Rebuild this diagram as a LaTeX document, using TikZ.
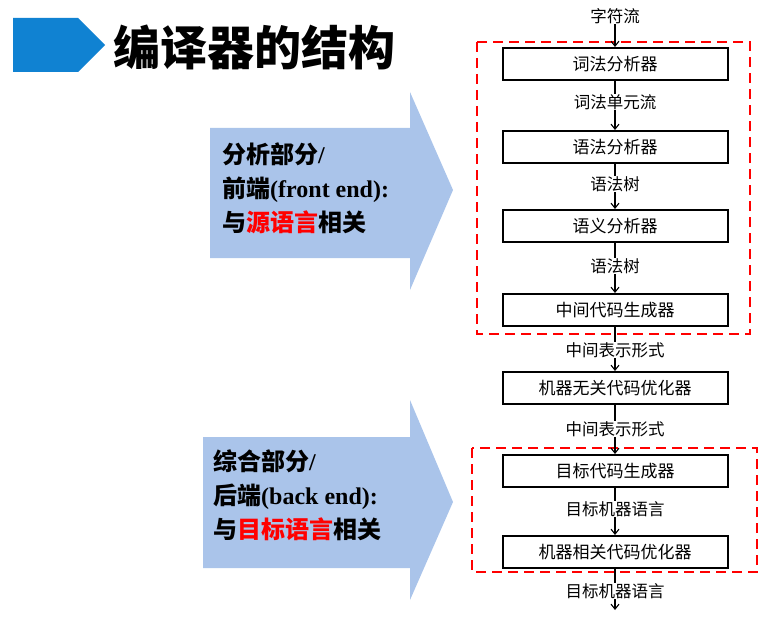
\documentclass[tikz,border=0pt]{standalone}
\usepackage{fontspec}
\usetikzlibrary{arrows.meta}
\setmainfont{Liberation Serif}
\newfontfamily\cjk{Noto Sans CJK SC}
\newcommand\cjkb{\cjk\bfseries}
\definecolor{iconblue}{RGB}{16,130,210}
\definecolor{arrowblue}{RGB}{170,196,234}
\begin{document}
\begin{tikzpicture}[x=1pt,y=-1pt,
 stage/.style={draw,line width=2pt,minimum width=225pt,minimum height=32pt,inner sep=1pt,font=\cjk\fontsize{17}{19}\selectfont},
 lab/.style={font=\cjk\fontsize{16.5}{18}\selectfont,inner sep=0.5pt},
 conn/.style={-{Straight Barb[length=5pt,width=8pt]},line width=1.1pt},
 seg/.style={line width=1.1pt},
 reddash/.style={draw=red,line width=2.5pt,dash pattern=on 10pt off 6pt}]
\useasboundingbox (0,0) rectangle (773,623);
% title icon
\fill[iconblue] (13,18) -- (78,18) -- (105,45) -- (78,72) -- (13,72) -- cycle;
\node[anchor=west,font=\cjkb\fontsize{47}{50}\selectfont,inner sep=0] (title) at (113,47) {编译器的结构};
% big arrows
\fill[arrowblue] (210,128) -- (410,128) -- (410,92) -- (453,190) -- (410,290) -- (410,258) -- (210,258) -- cycle;
\fill[arrowblue] (203,437) -- (410,437) -- (410,400) -- (453,502) -- (410,600) -- (410,568) -- (203,568) -- cycle;
\node[anchor=north west,align=left,font=\bfseries\fontsize{24}{34}\selectfont,inner sep=0] (t1) at (222,143)
 {{\cjkb 分析部分}/\\{\cjkb 前端}(front end):\\{\cjkb 与\textcolor{red}{源语言}相关}};
\node[anchor=north west,align=left,font=\bfseries\fontsize{24}{34}\selectfont,inner sep=0] (t2) at (213,450)
 {{\cjkb 综合部分}/\\{\cjkb 后端}(back end):\\{\cjkb 与\textcolor{red}{目标语言}相关}};
% red dashed regions
\draw[reddash] (477,42) rectangle (750,334);
\draw[reddash] (472,448) rectangle (757,572);
% pipeline
\node[lab] (l0) at (615,16) {字符流};
\node[stage] (b1) at (615,64) {词法分析器};
\node[lab] (l1) at (615,102) {词法单元流};
\node[stage] (b2) at (615,147) {语法分析器};
\node[lab] (l2) at (615,184) {语法树};
\node[stage] (b3) at (615,226) {语义分析器};
\node[lab] (l3) at (615,266) {语法树};
\node[stage] (b4) at (615,310) {中间代码生成器};
\node[lab] (l4) at (615,350) {中间表示形式};
\node[stage] (b5) at (615,388) {机器无关代码优化器};
\node[lab] (l5) at (615,429) {中间表示形式};
\node[stage] (b6) at (615,471) {目标代码生成器};
\node[lab] (l6) at (615,509) {目标机器语言};
\node[stage] (b7) at (615,552) {机器相关代码优化器};
\node[lab] (l7) at (615,591) {目标机器语言};
\coordinate (end) at (615,610);
\draw[conn] (l0) -- (b1);
\draw[seg] (b1) -- (l1); \draw[conn] (l1) -- (b2);
\draw[seg] (b2) -- (l2); \draw[conn] (l2) -- (b3);
\draw[seg] (b3) -- (l3); \draw[conn] (l3) -- (b4);
\draw[seg] (b4) -- (l4); \draw[conn] (l4) -- (b5);
\draw[seg] (b5) -- (l5); \draw[conn] (l5) -- (b6);
\draw[seg] (b6) -- (l6); \draw[conn] (l6) -- (b7);
\draw[seg] (b7) -- (l7); \draw[conn] (l7) -- (end);
\end{tikzpicture}
\end{document}
